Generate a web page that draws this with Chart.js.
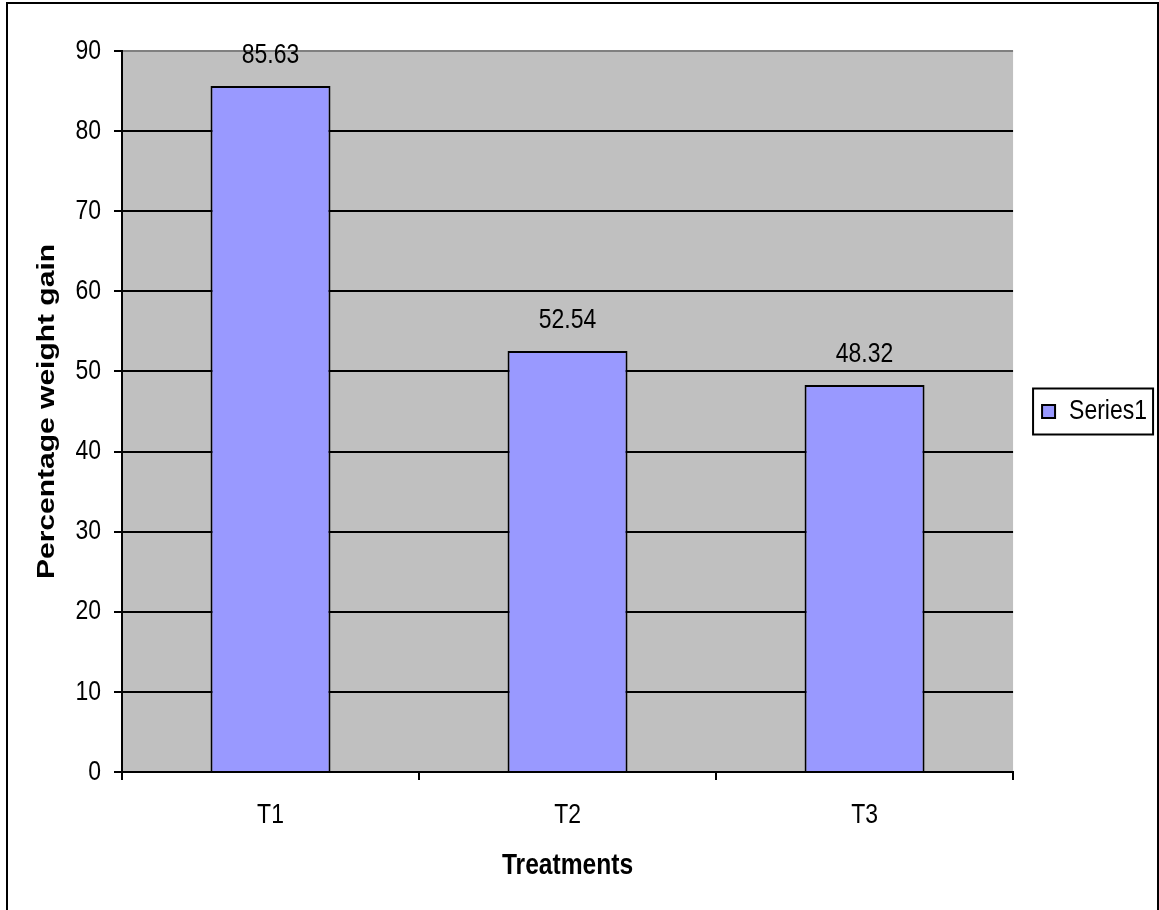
<!DOCTYPE html>
<html>
<head>
<meta charset="utf-8">
<script src="https://cdn.jsdelivr.net/npm/chart.js@4.4.0/dist/chart.umd.min.js"></script>
<style>
  html, body { margin: 0; padding: 0; background: #ffffff; }
  #wrap { position: relative; width: 1159px; height: 910px; overflow: hidden; }
  #frame { position: absolute; left: 6px; top: 2px; width: 1153px; height: 930px; border: 2px solid #000; box-sizing: border-box; pointer-events: none; }
  canvas { position: absolute; left: 0; top: 0; }
</style>
</head>
<body>
<div id="wrap">
  <canvas id="c" width="1159" height="910"></canvas>
  <div id="frame"></div>
</div>
<script>
const categories = ["T1", "T2", "T3"];
const series1 = [85.63, 52.54, 48.32];
const seriesName = "Series1";
const yTitle = "Percentage weight gain";
const xTitle = "Treatments";

const FONT = "'Liberation Sans', Arial, sans-serif";
const TEXT_SX = 0.82; // horizontal squeeze of the reference's lettering

// Text in the reference is horizontally compressed; squeeze every glyph run about its anchor.
const narrowText = {
  id: 'narrowText',
  beforeInit(chart) {
    const ctx = chart.ctx;
    const orig = ctx.fillText;
    ctx.fillText = function (text, x, y, maxWidth) {
      const m = this.getTransform();
      const p = m.transformPoint(new DOMPoint(x, y));
      const s = new DOMMatrix().translate(p.x, p.y).scale(TEXT_SX, 1).translate(-p.x, -p.y);
      this.setTransform(s.multiply(m));
      if (maxWidth === undefined) orig.call(this, text, x, y);
      else orig.call(this, text, x, y, maxWidth);
      this.setTransform(m);
    };
  }
};

const plotBg = {
  id: 'plotBg',
  beforeDraw(chart) {
    const {ctx, chartArea: a} = chart;
    ctx.save();
    ctx.fillStyle = '#C0C0C0';
    ctx.fillRect(a.left, a.top, a.right - a.left, a.bottom - a.top);
    ctx.restore();
  }
};

const valueLabels = {
  id: 'valueLabels',
  afterDatasetsDraw(chart) {
    const ctx = chart.ctx;
    chart.data.datasets.forEach((ds, di) => {
      const meta = chart.getDatasetMeta(di);
      meta.data.forEach((bar, i) => {
        ctx.save();
        ctx.font = "28px " + FONT;
        ctx.fillStyle = '#000';
        ctx.textAlign = 'center';
        ctx.textBaseline = 'middle';
        ctx.fillText(ds.data[i].toFixed(2), bar.x, bar.y - 31);
        ctx.restore();
      });
    });
  }
};

const legendFrame = {
  id: 'legendFrame',
  afterDraw(chart) {
    const lg = chart.legend;
    if (!lg || !lg.legendHitBoxes || !lg.legendHitBoxes.length) return;
    const hb = lg.legendHitBoxes[0];
    const cy = hb.top + hb.height / 2;
    const ctx = chart.ctx;
    ctx.save();
    ctx.strokeStyle = '#000';
    ctx.lineWidth = 2;
    ctx.strokeRect(hb.left - 9, cy - 23, 120, 46);
    ctx.restore();
  }
};

new Chart(document.getElementById('c'), {
  type: 'bar',
  data: {
    labels: categories,
    datasets: [{
      label: seriesName,
      data: series1,
      backgroundColor: '#9999FF',
      borderColor: '#000000',
      borderWidth: 2,
      categoryPercentage: 1.0,
      barPercentage: 0.404
    }]
  },
  options: {
    responsive: false,
    animation: false,
    devicePixelRatio: 1,
    layout: { padding: { top: 51, right: -15, bottom: 0, left: 0 } },
    plugins: {
      legend: {
        position: 'right',
        fullSize: false,
        labels: {
          boxWidth: 13,
          boxHeight: 13,
          padding: 29,
          color: '#000',
          font: { family: FONT, size: 28 }
        }
      },
      tooltip: { enabled: false }
    },
    scales: {
      x: {
        afterFit: (s) => { s.height = 138; },
        grid: {
          offset: true,
          drawOnChartArea: true,
          color: (ctx) => ctx.index === categories.length ? '#808080' : 'rgba(0,0,0,0)',
          lineWidth: 2,
          tickColor: '#000',
          tickLength: 8
        },
        border: { color: '#000', width: 2 },
        ticks: { color: '#000', padding: 18, font: { family: FONT, size: 28 } },
        title: {
          display: true,
          text: xTitle,
          color: '#000',
          font: { family: FONT, size: 30, weight: 'bold' },
          padding: { top: 10, bottom: 26 }
        }
      },
      y: {
        min: 0,
        max: 90,
        afterFit: (s) => { s.width = 122; },
        ticks: { stepSize: 10, color: '#000', padding: 13, font: { family: FONT, size: 28 } },
        grid: {
          color: (ctx) => ctx.tick && ctx.tick.value === 90 ? '#808080' : '#000',
          lineWidth: 2,
          tickColor: '#000',
          tickLength: 8
        },
        border: { color: '#000', width: 2 },
        title: {
          display: true,
          text: yTitle,
          color: '#000',
          font: { family: FONT, size: 30, weight: 'bold' },
          padding: { top: 29, bottom: 0 }
        }
      }
    }
  },
  plugins: [narrowText, plotBg, valueLabels, legendFrame]
});
</script>
</body>
</html>
